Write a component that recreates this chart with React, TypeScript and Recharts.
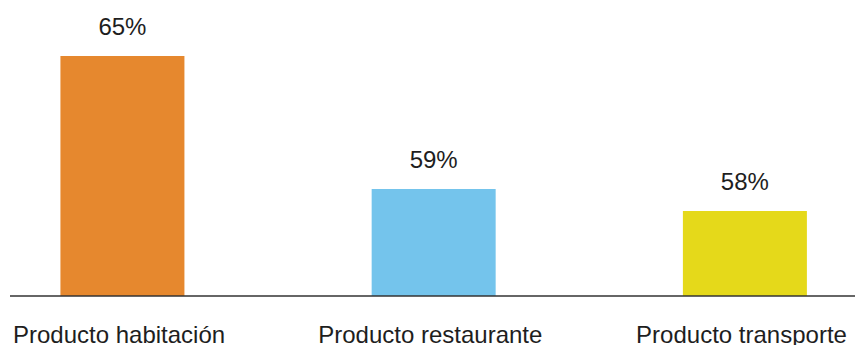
import React from 'react';
import { BarChart, Bar, XAxis, YAxis, Cell, LabelList } from 'recharts';

const categories = ['Producto habitación', 'Producto restaurante', 'Producto transporte'];
const values = [65, 59, 58];
const colors = ['#E6882E', '#74C4EC', '#E5D91A'];

const data = categories.map((name, i) => ({ pos: i, name, value: values[i] }));

const font = '"Liberation Sans", Arial, sans-serif';

export default function App() {
  return (
    <div style={{ position: 'absolute', left: 0, top: 0 }}>
      <BarChart
        width={855}
        height={345}
        data={data}
        margin={{ top: 10, right: 0, left: 10, bottom: 0 }}
        style={{ fontFamily: font }}
      >
        <XAxis
          dataKey="pos"
          type="number"
          domain={[-0.36, 2.355]}
          allowDataOverflow
          ticks={[0, 1, 2]}
          tickFormatter={(v) => categories[v] ?? ''}
          axisLine={{ stroke: '#333333', strokeWidth: 1.5 }}
          tickLine={false}
          tickSize={0}
          tickMargin={30}
          height={49}
          tick={{ fill: '#1e1e1e', fontSize: 24, dx: -3 }}
          interval={0}
        />
        <YAxis hide domain={[54.17, 67.07]} allowDataOverflow />
        <Bar dataKey="value" barSize={124} isAnimationActive={false}>
          {data.map((d, i) => (
            <Cell key={i} fill={colors[i]} />
          ))}
          <LabelList
            dataKey="value"
            position="top"
            offset={21}
            formatter={(v: number) => `${v}%`}
            style={{ fill: '#1e1e1e', fontSize: 24, fontFamily: font }}
          />
        </Bar>
      </BarChart>
    </div>
  );
}
